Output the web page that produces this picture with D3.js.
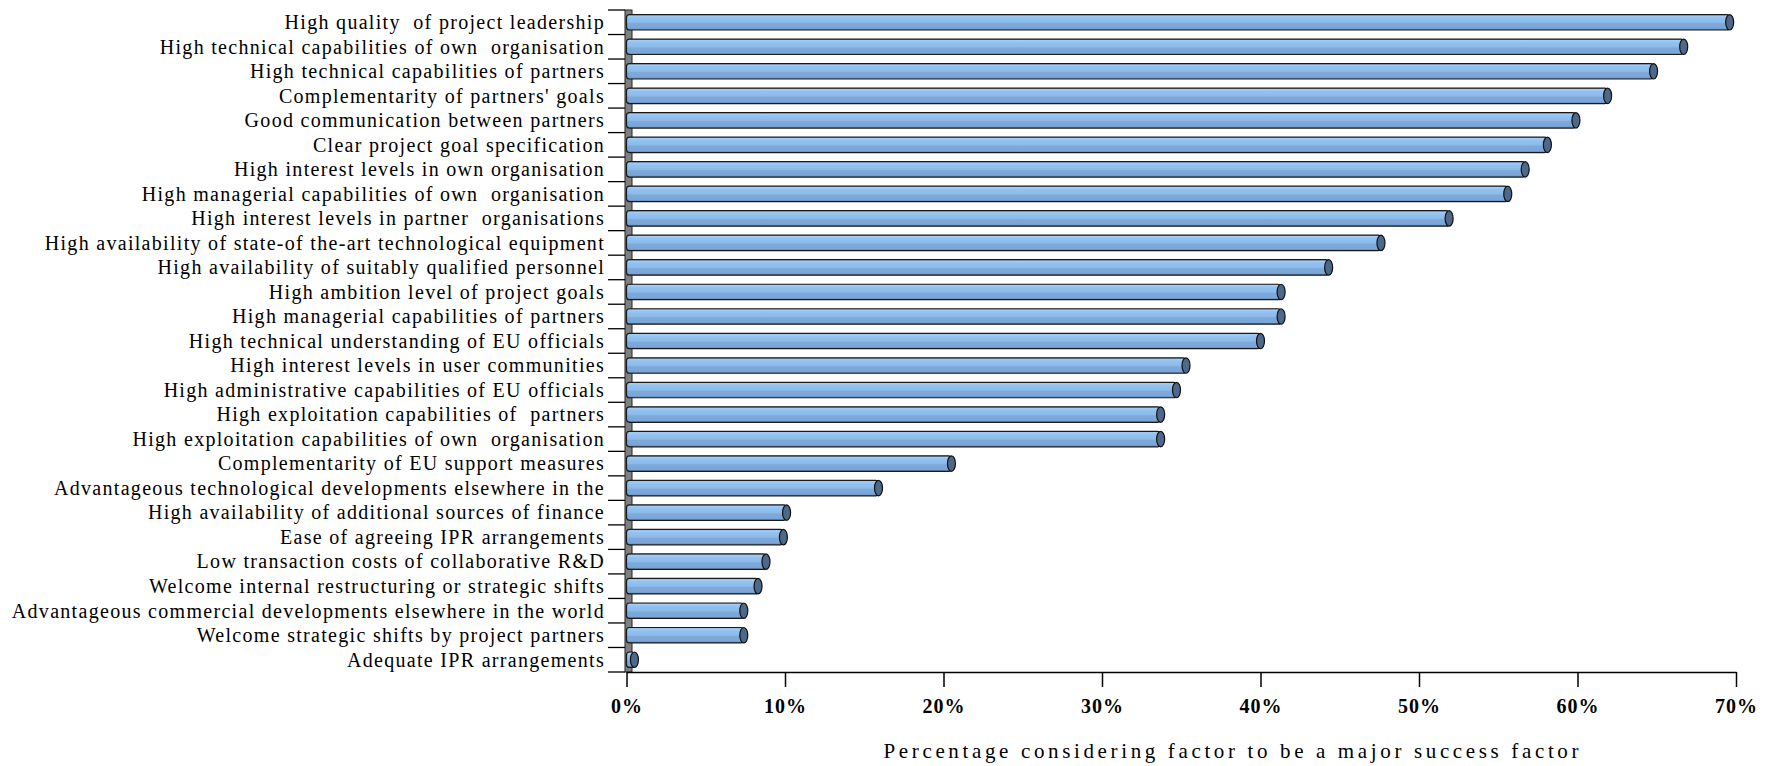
<!DOCTYPE html>
<html>
<head>
<meta charset="utf-8">
<script src="https://cdn.jsdelivr.net/npm/d3@7/dist/d3.min.js"></script>
<style>
  html, body { margin: 0; padding: 0; background: #fff; }
  svg { display: block; }
  .cat text { font-family: "Liberation Serif", "Times New Roman", serif; font-size: 20px; fill: #000; white-space: pre; letter-spacing: 1.3px; }
  .xax text { font-family: "Liberation Serif", "Times New Roman", serif; font-size: 20px; font-weight: bold; fill: #000; letter-spacing: 1px; }
  .title { font-family: "Liberation Serif", "Times New Roman", serif; font-size: 21px; fill: #000; }
</style>
</head>
<body>
<svg id="chart" width="1771" height="766"></svg>
<script>
// Success factors, top to bottom
const categories = [
  "High quality  of project leadership",
  "High technical capabilities of own  organisation",
  "High technical capabilities of partners",
  "Complementarity of partners' goals",
  "Good communication between partners",
  "Clear project goal specification",
  "High interest levels in own organisation",
  "High managerial capabilities of own  organisation",
  "High interest levels in partner  organisations",
  "High availability of state-of the-art technological equipment",
  "High availability of suitably qualified personnel",
  "High ambition level of project goals",
  "High managerial capabilities of partners",
  "High technical understanding of EU officials",
  "High interest levels in user communities",
  "High administrative capabilities of EU officials",
  "High exploitation capabilities of  partners",
  "High exploitation capabilities of own  organisation",
  "Complementarity of EU support measures",
  "Advantageous technological developments elsewhere in the",
  "High availability of additional sources of finance",
  "Ease of agreeing IPR arrangements",
  "Low transaction costs of collaborative R&D",
  "Welcome internal restructuring or strategic shifts",
  "Advantageous commercial developments elsewhere in the world",
  "Welcome strategic shifts by project partners",
  "Adequate IPR arrangements"
];

// Share of respondents rating each factor a major success factor
const shares = [
  0.696, 0.667, 0.648, 0.619, 0.599, 0.581, 0.567, 0.556, 0.519,
  0.476, 0.443, 0.413, 0.413, 0.400, 0.353, 0.347, 0.337, 0.337,
  0.205, 0.159, 0.101, 0.099, 0.088, 0.083, 0.074, 0.074, 0.005
];

const xTicks = [0, 0.1, 0.2, 0.3, 0.4, 0.5, 0.6, 0.7];
const xTitle = "Percentage considering factor to be a major success factor";

const svg = d3.select("#chart");

const plotLeft = 626.5, plotRight = 1736, plotTop = 10, plotBottom = 672;

const x = d3.scaleLinear().domain([0, 0.7]).range([plotLeft, plotRight]);
const y = d3.scaleBand().domain(categories).range([plotTop, plotBottom])
  .paddingInner(0.37).paddingOuter(0.185);

// Cylinder shading
const defs = svg.append("defs");
const grad = defs.append("linearGradient").attr("id", "tube")
  .attr("x1", 0).attr("y1", 0).attr("x2", 0).attr("y2", 1);
[
  [0, "#6f93bd"], [0.08, "#a3cef7"], [0.22, "#93c2f0"], [0.5, "#8cbbea"],
  [0.58, "#7eaadb"], [0.88, "#7aa5d6"], [1, "#5b80ac"]
].forEach(([o, c]) => grad.append("stop").attr("offset", o).attr("stop-color", c));

// Side wall
svg.append("rect")
  .attr("x", plotLeft - 1.5).attr("y", plotTop)
  .attr("width", 7).attr("height", plotBottom - plotTop)
  .attr("fill", "#808080").attr("stroke", "#222").attr("stroke-width", 1);

// Category tick marks at band boundaries
const step = y.step();
const bounds = categories.map(c => y(c) - step * y.paddingInner() / 2).concat([plotBottom]);
svg.append("g").selectAll("line").data(bounds).join("line")
  .attr("x1", 608).attr("x2", plotLeft - 1.5)
  .attr("y1", d => d).attr("y2", d => d)
  .attr("stroke", "#000").attr("stroke-width", 1.3);

// Category labels
const yAxis = svg.append("g").attr("class", "cat")
  .attr("transform", `translate(${plotLeft - 1.5},0)`)
  .call(d3.axisLeft(y).tickSize(0).tickPadding(20));
yAxis.select(".domain").remove();
yAxis.selectAll("text").attr("dy", "0.34em");

// X axis
const xAxis = svg.append("g").attr("class", "xax")
  .attr("transform", `translate(0,${plotBottom})`)
  .call(d3.axisBottom(x).tickValues(xTicks).tickFormat(d3.format(".0%"))
    .tickSize(15).tickPadding(12).tickSizeOuter(0));
xAxis.select(".domain").attr("stroke", "#000").attr("stroke-width", 1.5);
xAxis.selectAll(".tick line").attr("stroke", "#000").attr("stroke-width", 1.5);

// Bars
const bh = y.bandwidth();
const bars = svg.append("g");
bars.selectAll("rect").data(categories).join("rect")
  .attr("x", x(0))
  .attr("y", d => y(d))
  .attr("width", (d, i) => x(shares[i]) - x(0))
  .attr("height", bh)
  .attr("rx", 3)
  .attr("fill", "url(#tube)")
  .attr("stroke", "#1a1a1a").attr("stroke-width", 1.2);

// End caps
bars.selectAll("ellipse").data(categories).join("ellipse")
  .attr("cx", (d, i) => x(shares[i]))
  .attr("cy", d => y(d) + bh / 2)
  .attr("rx", 4)
  .attr("ry", bh / 2)
  .attr("fill", "#4d6889")
  .attr("stroke", "#111").attr("stroke-width", 1.2);

// Axis title
svg.append("text").attr("class", "title")
  .attr("x", 1231).attr("y", 758)
  .attr("text-anchor", "middle")
  .attr("textLength", 695).attr("lengthAdjust", "spacing")
  .text(xTitle);
</script>
</body>
</html>
